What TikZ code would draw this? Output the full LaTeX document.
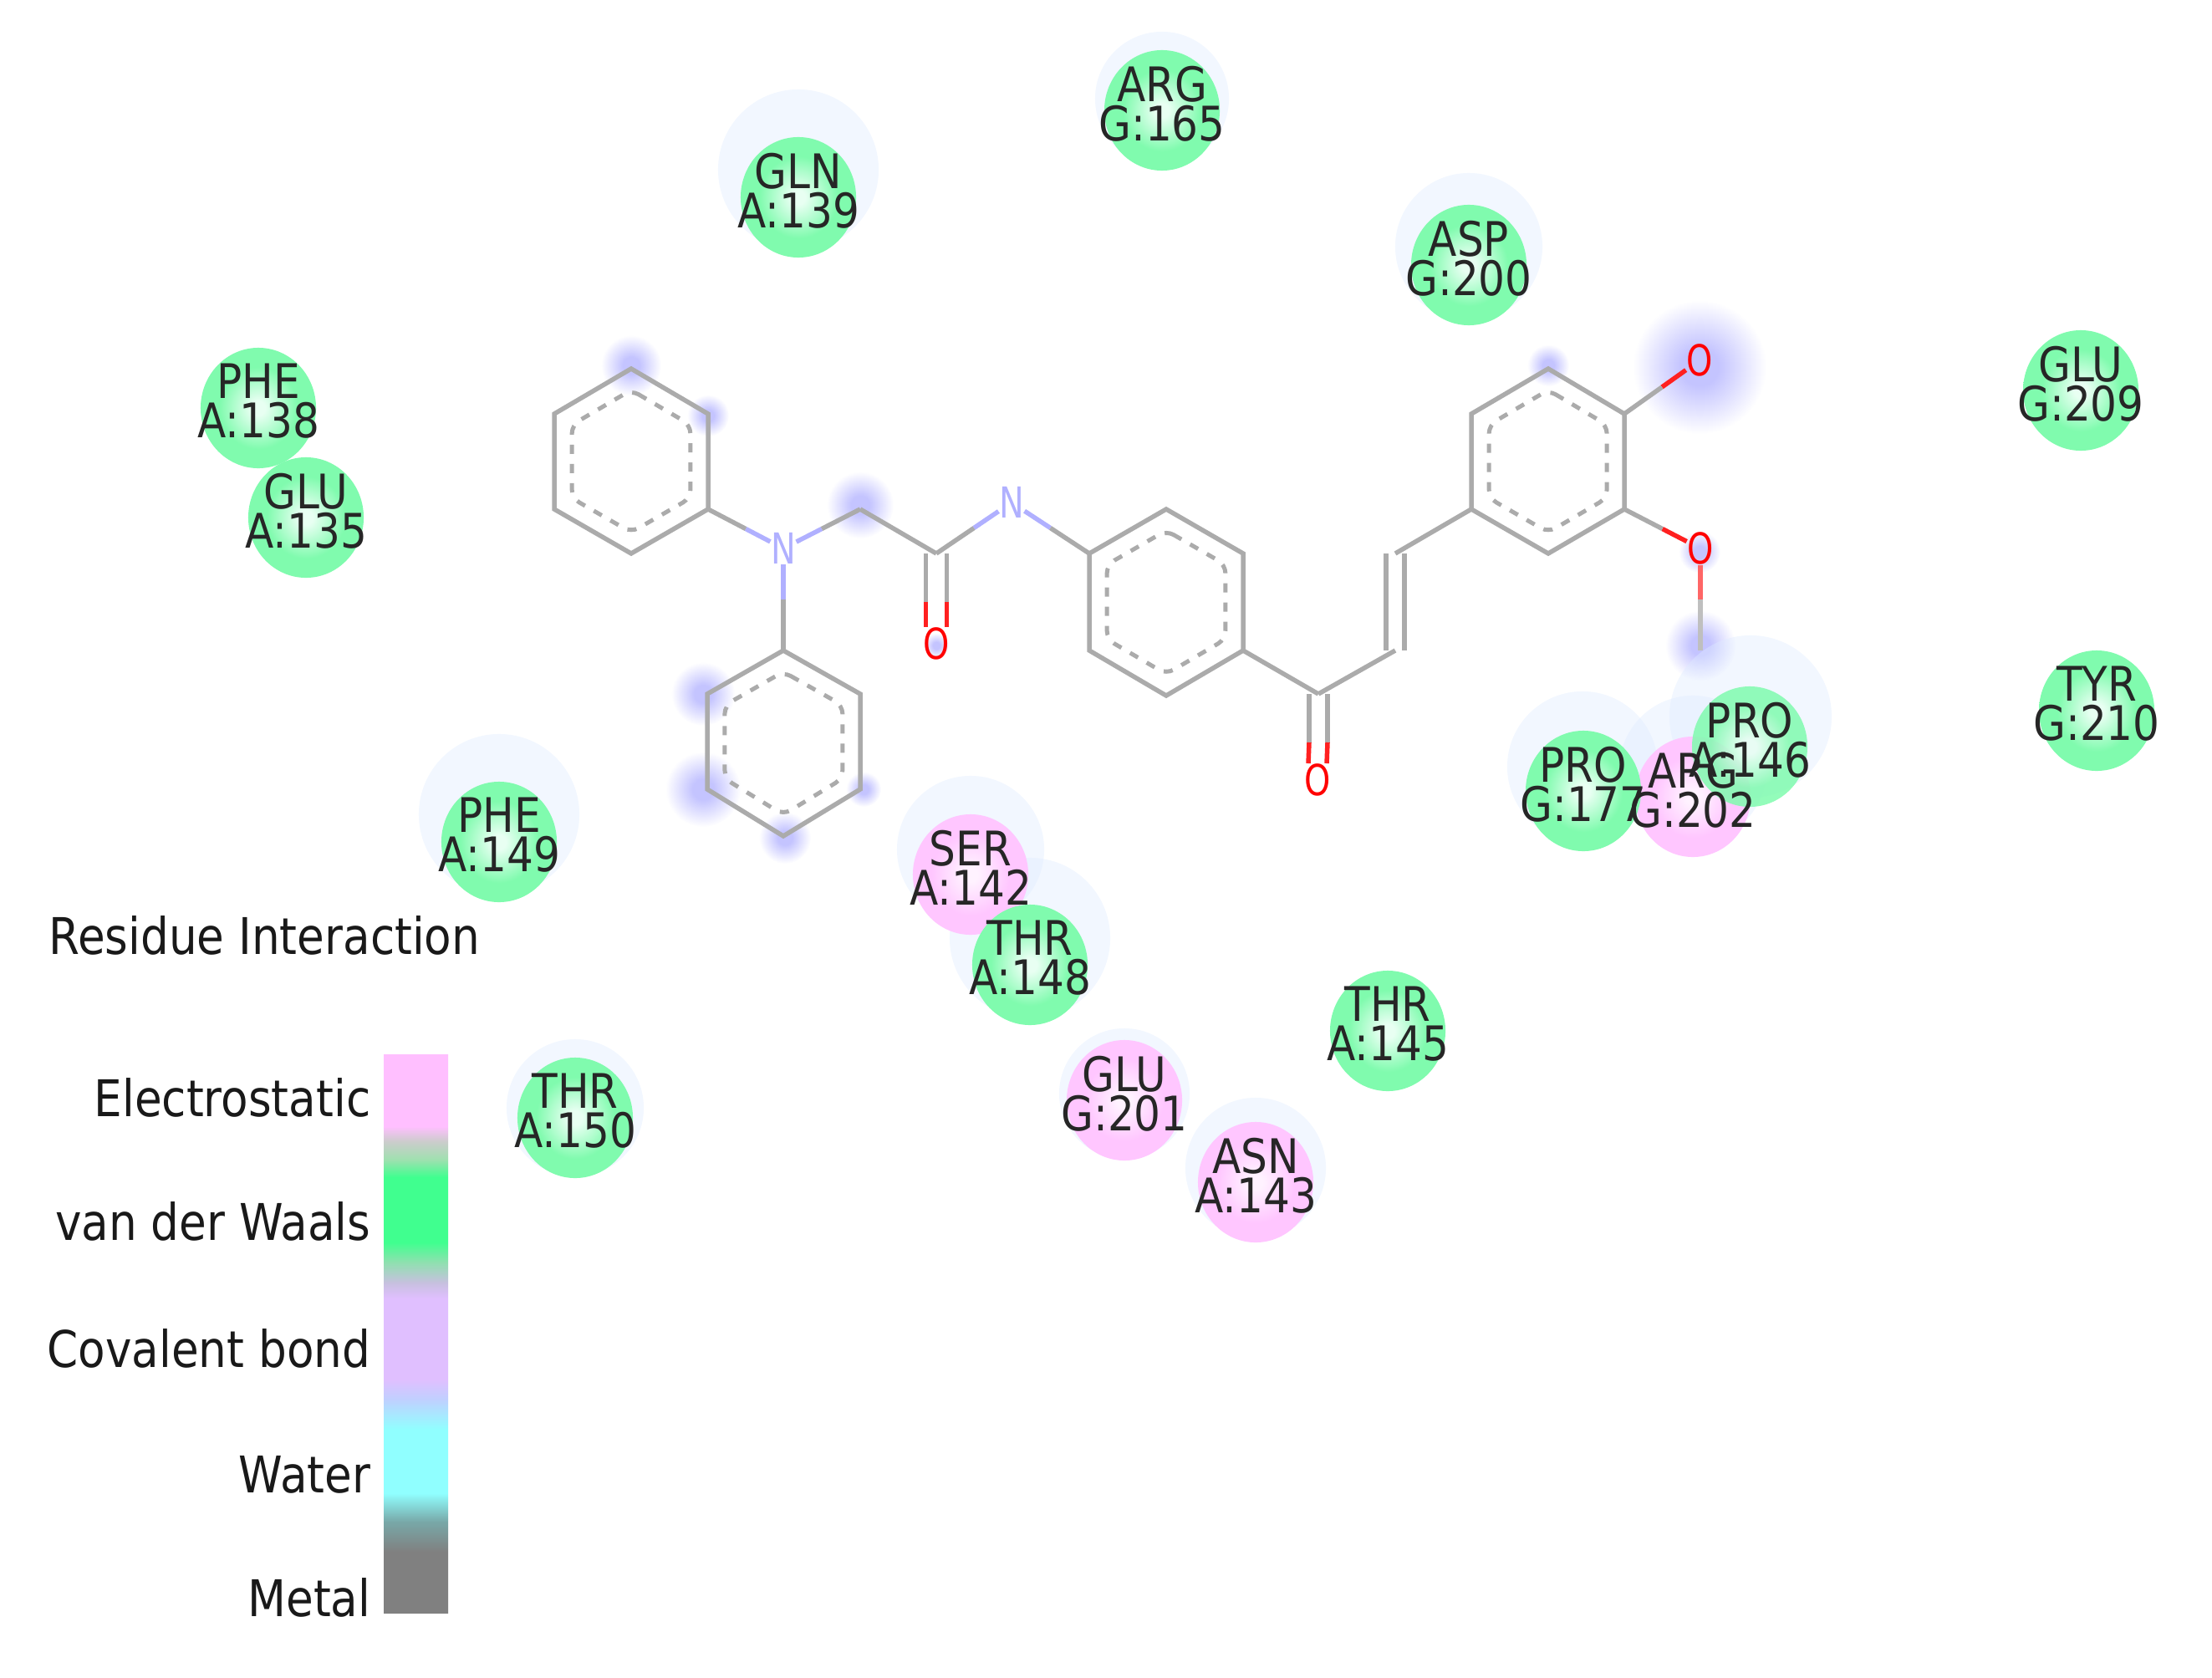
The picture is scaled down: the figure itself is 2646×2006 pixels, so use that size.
\documentclass[tikz,border=0pt]{standalone}
\usepackage{fontspec}
\usetikzlibrary{calc,shapes.geometric}
\newfontfamily\labfont[FakeStretch=0.88]{DejaVu Sans}
\newfontfamily\atomfont[FakeStretch=0.78]{DejaVu Sans}
\definecolor{bondgray}{HTML}{ABABAB}
\definecolor{bondblue}{HTML}{B0B0FF}
\definecolor{bondred}{HTML}{FF2020}
\definecolor{halofill}{HTML}{DFEBFF}
\definecolor{greenmid}{HTML}{E8FFF2}
\definecolor{greenrim}{HTML}{80FBAE}
\definecolor{pinkmid}{HTML}{FFF2FF}
\definecolor{pinkrim}{HTML}{FFC6FF}
\definecolor{glowmid}{HTML}{C4C4FF}
\definecolor{barpink}{HTML}{FFBFFF}
\definecolor{barmixa}{HTML}{CCCCCC}
\definecolor{barmixb}{HTML}{A0E0B0}
\definecolor{bargreen}{HTML}{40FF8F}
\definecolor{barmixc}{HTML}{90E0B0}
\definecolor{barmixd}{HTML}{C8C0E0}
\definecolor{barpurple}{HTML}{E0BFFF}
\definecolor{barblue}{HTML}{C0D0FF}
\definecolor{barcyan}{HTML}{90FFFF}
\definecolor{barteal}{HTML}{78A8A8}
\definecolor{bargrey}{HTML}{808080}
\pgfdeclareradialshading{discgreen}{\pgfpointorigin}{color(0bp)=(greenmid);color(3bp)=(greenmid);color(17bp)=(greenrim);color(50bp)=(greenrim)}
\pgfdeclareradialshading{discpink}{\pgfpointorigin}{color(0bp)=(pinkmid);color(3bp)=(pinkmid);color(17bp)=(pinkrim);color(50bp)=(pinkrim)}
\pgfdeclareradialshading{glow}{\pgfpointorigin}{color(0bp)=(glowmid);color(7bp)=(glowmid);color(25bp)=(white);color(50bp)=(white)}
\pgfdeclareverticalshading{legendbar}{100bp}{color(0bp)=(bargrey);color(30.45bp)=(bargrey);color(33.15bp)=(barteal);color(35.7bp)=(barcyan);color(41.4bp)=(barcyan);color(44.1bp)=(barblue);color(45.9bp)=(barpurple);color(53.15bp)=(barpurple);color(54.5bp)=(barmixd);color(56.35bp)=(barmixc);color(58.15bp)=(bargreen);color(64bp)=(bargreen);color(65.6bp)=(barmixb);color(67.2bp)=(barmixa);color(68.55bp)=(barpink);color(100bp)=(barpink)}
\tikzset{
  bond/.style={draw=bondgray, line width=.055cm},
  nbond/.style={draw=bondblue, line width=.055cm},
  obond/.style={draw=bondred, line width=.055cm},
  aromatic/.style={draw=bondgray, line width=.05cm, dash pattern=on .11cm off .12cm, rounded corners=.1cm},
  spot/.style={circle, inner sep=0pt, shading=glow},
  halo/.style={circle, inner sep=0pt, fill=halofill, fill opacity=.42},
  vdw/.style={ellipse, inner sep=0pt, minimum width=1.38cm, minimum height=1.44cm, shading=discgreen},
  elec/.style={ellipse, inner sep=0pt, minimum width=1.38cm, minimum height=1.44cm, shading=discpink},
  reslabel/.style={inner sep=0pt, align=center, text=black!85, font=\labfont\fontsize{16.2}{13.4}\selectfont},
  atomn/.style={inner sep=0pt, text=bondblue, font=\atomfont\fontsize{14.5}{14.5}\selectfont},
  atomo/.style={inner sep=0pt, text=red, font=\atomfont\fontsize{14.5}{14.5}\selectfont},
  legendtext/.style={inner sep=0pt, anchor=base east, text=black!90, font=\labfont\fontsize{17.2}{17.2}\selectfont}
}
\newcommand{\halfbond}[3]{\draw[#3] (#1) -- ($(#1)!.5!(#2)$); \draw[bond] ($(#1)!.5!(#2)$) -- (#2);}
\newcommand{\kekule}[1]{\draw[bond] (#11) -- (#12) -- (#13) -- (#14) -- (#15) -- (#16) -- cycle;
  \draw[aromatic] ($(#1c)!.77!(#11)$) -- ($(#1c)!.77!(#12)$) -- ($(#1c)!.77!(#13)$) -- ($(#1c)!.77!(#14)$) -- ($(#1c)!.77!(#15)$) -- ($(#1c)!.77!(#16)$) -- cycle;}
\begin{document}
\begin{tikzpicture}[x=.01cm, y=-.01cm]
  \useasboundingbox (0,0) rectangle (2646,2006);

  \path (755,437)  node[spot, minimum size=.72cm] (sa1) {}
        (847,497)  node[spot, minimum size=.50cm] (sa2) {}
        (1029,604) node[spot, minimum size=.80cm] (sch) {}
        (841,830)  node[spot, minimum size=.76cm] (sc1) {}
        (841,944)  node[spot, minimum size=.90cm] (sc2) {}
        (939,1002) node[spot, minimum size=.62cm] (sc3) {}
        (1033,944) node[spot, minimum size=.42cm] (sc4) {}
        (1120,772) node[spot, minimum size=.30cm] (so1) {}
        (1852,437) node[spot, minimum size=.50cm] (sd1) {}
        (2033,439) node[spot, minimum size=1.60cm] (so2) {}
        (2033,660) node[spot, minimum size=.50cm] (so3) {}
        (2034,772) node[spot, minimum size=.84cm] (sme) {};

  \path (1390,118) node[halo, minimum size=1.60cm] (harg165) {}
        (955,203)  node[halo, minimum size=1.92cm] (hgln139) {}
        (1757,295) node[halo, minimum size=1.76cm] (hasp200) {}
        (597,974)  node[halo, minimum size=1.92cm] (hphe149) {}
        (1161,1016) node[halo, minimum size=1.76cm] (hser142) {}
        (1232,1122) node[halo, minimum size=1.92cm] (hthr148) {}
        (1345,1308) node[halo, minimum size=1.56cm] (hglu201) {}
        (1502,1397) node[halo, minimum size=1.68cm] (hasn143) {}
        (688,1325) node[halo, minimum size=1.64cm] (hthr150) {}
        (1893,917) node[halo, minimum size=1.80cm] (hpro177) {}
        (2025,920) node[halo, minimum size=1.76cm] (harg202) {}
        (2094,857) node[halo, minimum size=1.94cm] (hpro146) {};

  \coordinate (a1) at (755,441);  \coordinate (a2) at (847,495);
  \coordinate (a3) at (847,609);  \coordinate (a4) at (755,662);
  \coordinate (a5) at (663,609);  \coordinate (a6) at (663,495);
  \coordinate (ac) at (755,552);
  \coordinate (b1) at (1395,609); \coordinate (b2) at (1487,662);
  \coordinate (b3) at (1487,778); \coordinate (b4) at (1395,832);
  \coordinate (b5) at (1303,778); \coordinate (b6) at (1303,662);
  \coordinate (bc) at (1395,720);
  \coordinate (c1) at (937,778);  \coordinate (c2) at (1029,830);
  \coordinate (c3) at (1029,944); \coordinate (c4) at (937,1000);
  \coordinate (c5) at (846,944);  \coordinate (c6) at (846,830);
  \coordinate (cc) at (937,889);
  \coordinate (d1) at (1852,441); \coordinate (d2) at (1943,495);
  \coordinate (d3) at (1943,609); \coordinate (d4) at (1852,662);
  \coordinate (d5) at (1760,609); \coordinate (d6) at (1760,495);
  \coordinate (dc) at (1852,552);
  \coordinate (ch2) at (1029,609);
  \coordinate (amc) at (1120,662);
  \coordinate (koc) at (1577,830);
  \coordinate (via) at (1669,778);
  \coordinate (vib) at (1669,662);
  \coordinate (me) at (2034,778);

  \path (937,656)  node[atomn] (n1) {N}
        (1210,601) node[atomn] (n2) {N}
        (1120,770) node[atomo] (o1) {O}
        (1576,933) node[atomo] (o2) {O}
        (2033,431) node[atomo] (o3) {O}
        (2034,656) node[atomo] (o4) {O};

  \kekule{a}
  \kekule{b}
  \kekule{c}
  \kekule{d}

  \halfbond{n1}{a3}{nbond}
  \halfbond{n1}{ch2}{nbond}
  \halfbond{n1}{c1}{nbond}
  \draw[bond] (ch2) -- (amc);
  \halfbond{n2}{amc}{nbond}
  \halfbond{n2}{b6}{nbond}
  \halfbond{o3}{d2}{obond}
  \halfbond{o4}{d3}{obond}
  \draw[obond, draw=red!60] (o4) -- ($(o4)!.5!(me)$);
  \draw[draw=black!25, line width=.055cm] ($(o4)!.5!(me)$) -- (me);
  \draw[bond] (b3) -- (koc);
  \draw[bond] (koc) -- (via);
  \draw[bond] (vib) -- (d5);
  \draw[bond] ([xshift=-.11cm]via) -- ([xshift=-.11cm]vib);
  \draw[bond] ([xshift=.11cm]via) -- ([xshift=.11cm]vib);
  \draw[bond] ([xshift=-.125cm]amc) -- ([xshift=-.125cm]amc |- 0,720);
  \draw[bond] ([xshift=.125cm]amc) -- ([xshift=.125cm]amc |- 0,720);
  \draw[obond] ([xshift=-.125cm]amc |- 0,720) -- ([xshift=-.125cm]o1.north);
  \draw[obond] ([xshift=.125cm]amc |- 0,720) -- ([xshift=.125cm]o1.north);
  \draw[bond] ([xshift=-.11cm]koc) -- ([xshift=-.11cm]koc |- 0,888);
  \draw[bond] ([xshift=.11cm]koc) -- ([xshift=.11cm]koc |- 0,888);
  \draw[obond] ([xshift=-.11cm]koc |- 0,888) -- ([xshift=-.11cm]o2.north);
  \draw[obond] ([xshift=.11cm]koc |- 0,888) -- ([xshift=.11cm]o2.north);

  \path (1390,132) node[vdw]  (arg165) {}
        (955,236)  node[vdw]  (gln139) {}
        (1757,317) node[vdw]  (asp200) {}
        (309,488)  node[vdw]  (phe138) {}
        (366,619)  node[vdw]  (glu135) {}
        (2489,467) node[vdw]  (glu209) {}
        (2508,850) node[vdw]  (tyr210) {}
        (597,1007) node[vdw]  (phe149) {}
        (1161,1046) node[elec] (ser142) {}
        (1232,1154) node[vdw]  (thr148) {}
        (1660,1233) node[vdw]  (thr145) {}
        (1345,1316) node[elec] (glu201) {}
        (1502,1414) node[elec] (asn143) {}
        (688,1337) node[vdw]  (thr150) {}
        (2025,953) node[elec] (arg202) {}
        (1894,946) node[vdw]  (pro177) {}
        (2093,893) node[vdw, opacity=.85] (pro146) {};

  \node[reslabel] (targ165) at ([yshift=.08cm]arg165) {ARG\\G:165};
  \node[reslabel] (tgln139) at ([yshift=.08cm]gln139) {GLN\\A:139};
  \node[reslabel] (tasp200) at ([yshift=.08cm]asp200) {ASP\\G:200};
  \node[reslabel] (tphe138) at ([yshift=.08cm]phe138) {PHE\\A:138};
  \node[reslabel] (tglu135) at ([yshift=.08cm]glu135) {GLU\\A:135};
  \node[reslabel] (tglu209) at ([yshift=.08cm]glu209) {GLU\\G:209};
  \node[reslabel] (ttyr210) at ([yshift=.08cm]tyr210) {TYR\\G:210};
  \node[reslabel] (tphe149) at ([yshift=.08cm]phe149) {PHE\\A:149};
  \node[reslabel] (tser142) at ([yshift=.08cm]ser142) {SER\\A:142};
  \node[reslabel] (tthr148) at ([yshift=.08cm]thr148) {THR\\A:148};
  \node[reslabel] (tthr145) at ([yshift=.08cm]thr145) {THR\\A:145};
  \node[reslabel] (tglu201) at ([yshift=.08cm]glu201) {GLU\\G:201};
  \node[reslabel] (tasn143) at ([yshift=.08cm]asn143) {ASN\\A:143};
  \node[reslabel] (tthr150) at ([yshift=.08cm]thr150) {THR\\A:150};
  \node[reslabel] (targ202) at ([yshift=.08cm]arg202) {ARG\\G:202};
  \node[reslabel] (tpro177) at ([yshift=.08cm]pro177) {PRO\\G:177};
  \node[reslabel] (tpro146) at ([yshift=.08cm]pro146) {PRO\\A:146};

  \shade[shading=legendbar] (459,1261) rectangle (536,1929);
  \path (575,1141) node[legendtext] (title) {Residue Interaction}
        (444,1335) node[legendtext] (elecname) {Electrostatic}
        (444,1483) node[legendtext] (vdwname) {van der Waals}
        (444,1635) node[legendtext] (covname) {Covalent bond}
        (444,1785) node[legendtext] (watername) {Water}
        (444,1933) node[legendtext] (metalname) {Metal};
\end{tikzpicture}
\end{document}
